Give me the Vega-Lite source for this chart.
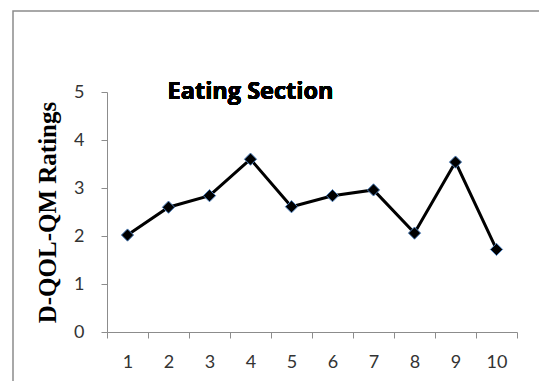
{
  "$schema": "https://vega.github.io/schema/vega-lite/v6.json",
  "width": 526,
  "height": 370,
  "padding": {"left": 13, "top": 11, "right": 0, "bottom": 0},
  "background": "white",
  "config": {"view": {"stroke": "#8c8c8c", "strokeWidth": 1.5, "strokeDash": [526, 896, 370]}},
  "data": {"values": [
    {"n": 1, "rating": 2.02},
    {"n": 2, "rating": 2.6},
    {"n": 3, "rating": 2.84},
    {"n": 4, "rating": 3.6},
    {"n": 5, "rating": 2.61},
    {"n": 6, "rating": 2.84},
    {"n": 7, "rating": 2.96},
    {"n": 8, "rating": 2.06},
    {"n": 9, "rating": 3.54},
    {"n": 10, "rating": 1.72}
  ]},
  "encoding": {
    "x": {
      "field": "n", "type": "ordinal",
      "scale": {"type": "band", "range": [94, 504], "paddingInner": 0, "paddingOuter": 0},
      "axis": {"title": null, "tickBand": "extent", "labelAngle": 0, "offset": -49, "domainColor": "#8c8c8c", "tickColor": "#8c8c8c", "tickSize": 6, "labelPadding": 15, "labelFont": "Lato", "labelFontSize": 18, "labelColor": "#333333", "grid": false}
    },
    "y": {
      "field": "rating", "type": "quantitative",
      "scale": {"domain": [0, 5], "range": [321, 81], "nice": false, "zero": true},
      "axis": {"title": "D-QOL-QM Ratings", "titleFont": "Liberation Serif", "titleFontSize": 25, "titleFontWeight": "bold", "titleColor": "black", "titlePadding": 13, "offset": -94, "values": [0, 1, 2, 3, 4, 5], "domainColor": "#8c8c8c", "tickColor": "#8c8c8c", "tickSize": 6, "labelPadding": 17, "labelFont": "Lato", "labelFontSize": 18, "labelColor": "#333333", "grid": false}
    }
  },
  "layer": [
    {"mark": {"type": "line", "color": "black", "strokeWidth": 3}},
    {"mark": {"type": "point", "shape": "diamond", "filled": true, "size": 150, "fill": "black", "stroke": "#4f81bd", "strokeWidth": 1, "opacity": 1}},
    {
      "mark": {"type": "text", "font": "Open Sans", "fontSize": 23.5, "fontWeight": "bold", "color": "black", "baseline": "middle", "align": "center"},
      "encoding": {"x": {"datum": 4}, "y": {"datum": 5}, "text": {"value": "Eating Section"}}
    }
  ]
}
